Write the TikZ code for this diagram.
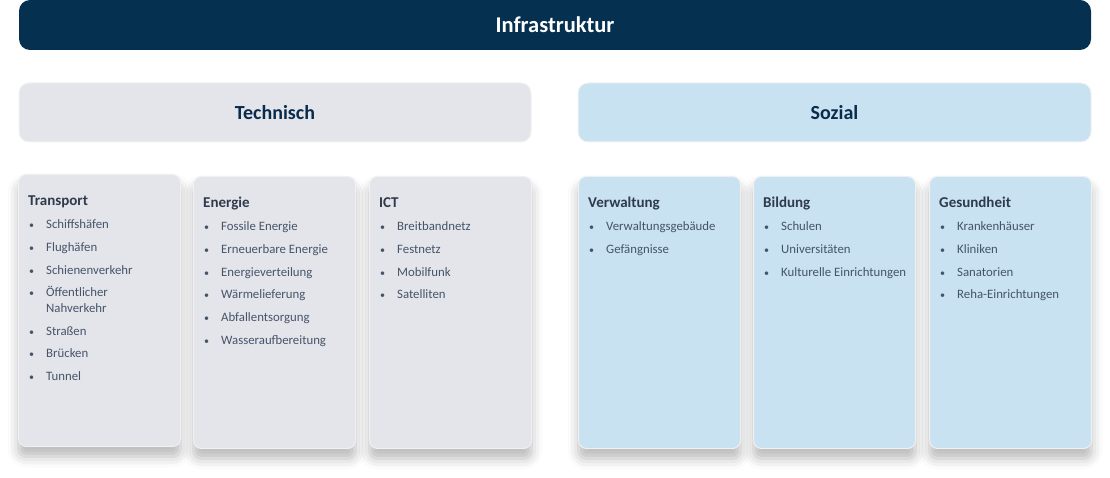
\documentclass[tikz,border=0pt]{standalone}
\usepackage{fontspec}
\setmainfont{Carlito}
\usetikzlibrary{shadows.blur}
\definecolor{navy}{RGB}{5,48,80}
\definecolor{navytext}{RGB}{10,44,76}
\definecolor{techfill}{RGB}{228,229,234}
\definecolor{sozfill}{RGB}{200,226,241}
\definecolor{ctitle}{RGB}{47,58,76}
\definecolor{citem}{RGB}{68,84,106}
\tikzset{
  topbar/.style={fill=navy, draw=none, rounded corners=11pt, text=white, font=\fontsize{22.5}{26}\selectfont\bfseries},
  headbox/.style={draw=white!90!gray, line width=1pt, rounded corners=10pt, text=navytext, font=\fontsize{20}{24}\selectfont\bfseries},
  card/.style={draw=white!88!gray, line width=1pt, rounded corners=8pt, anchor=north west,
     minimum width=162pt, minimum height=272pt, inner sep=0pt,
     blur shadow={shadow xshift=0pt, shadow yshift=-10pt, shadow blur radius=11pt, shadow opacity=28}},
  ctitle/.style={anchor=base west, inner sep=0pt, text=ctitle, font=\fontsize{15}{18}\selectfont\bfseries},
  bul/.style={anchor=base, inner sep=0pt, text=citem, font=\fontsize{10}{14}\selectfont},
  citem/.style={anchor=base west, inner sep=0pt, text=citem, font=\fontsize{12.8}{15}\selectfont},
}
% \mkcard{name}{left x}{top y}{fill}{title}{list of items}
\newcommand{\mkcard}[6]{%
  \node[card, fill=#4] (#1) at (#2,#3) {};
  \node[ctitle] (#1-t) at ([xshift=10pt,yshift=-31.5pt]#1.north west) {#5};
  \foreach \it [count=\k] in {#6} {
    \node[bul] (#1-b\k) at ([xshift=13.5pt,yshift={-54.5pt-22.8pt*(\k-1)}]#1.north west) {•};
    \node[citem] (#1-i\k) at ([xshift=28pt,yshift={-54.5pt-22.8pt*(\k-1)}]#1.north west) {\it};
  }%
}
\begin{document}
\begin{tikzpicture}[x=1pt,y=-1pt]
\useasboundingbox (0,0) rectangle (1110,478);
\node[topbar, minimum width=1072pt, minimum height=50pt] (infra) at (555,25) {Infrastruktur};
\node[headbox, fill=techfill, minimum width=512pt, minimum height=59pt] (tech) at (275,112.5) {Technisch};
\node[headbox, fill=sozfill, minimum width=513pt, minimum height=59pt] (soz) at (834.5,112.5) {Sozial};

% Transport (special two-line item)
\node[card, fill=techfill] (trans) at (18,174) {};
\node[ctitle] (trans-t) at ([xshift=10pt,yshift=-31.5pt]trans.north west) {Transport};
\foreach \it/\dy [count=\k] in {Schiffshäfen/0, Flughäfen/22.8, Schienenverkehr/45.6} {
  \node[bul] (trans-b\k) at ([xshift=13.5pt,yshift={-54.5pt-\dy pt}]trans.north west) {•};
  \node[citem] (trans-i\k) at ([xshift=28pt,yshift={-54.5pt-\dy pt}]trans.north west) {\it};
}
\node[bul] (trans-b4) at ([xshift=13.5pt,yshift=-122.9pt]trans.north west) {•};
\node[citem] (trans-i4) at ([xshift=28pt,yshift=-122.9pt]trans.north west)
  {\parbox[t]{120pt}{\fontsize{12.8}{15.5}\selectfont Öffentlicher\\Nahverkehr}};
\foreach \it/\dy [count=\k from 5] in {Straßen/161, Brücken/183.8, Tunnel/206.6} {
  \node[bul] (trans-b\k) at ([xshift=13.5pt,yshift={-\dy pt}]trans.north west) {•};
  \node[citem] (trans-i\k) at ([xshift=28pt,yshift={-\dy pt}]trans.north west) {\it};
}

\mkcard{ener}{193}{176}{techfill}{Energie}{Fossile Energie, Erneuerbare Energie, Energieverteilung, Wärmelieferung, Abfallentsorgung, Wasseraufbereitung}
\mkcard{ict}{369}{176}{techfill}{ICT}{Breitbandnetz, Festnetz, Mobilfunk, Satelliten}
\mkcard{verw}{578}{176}{sozfill}{Verwaltung}{Verwaltungsgebäude, Gefängnisse}
\mkcard{bild}{753}{176}{sozfill}{Bildung}{Schulen, Universitäten, Kulturelle Einrichtungen}
\mkcard{ges}{929}{176}{sozfill}{Gesundheit}{Krankenhäuser, Kliniken, Sanatorien, Reha-Einrichtungen}
\end{tikzpicture}
\end{document}
